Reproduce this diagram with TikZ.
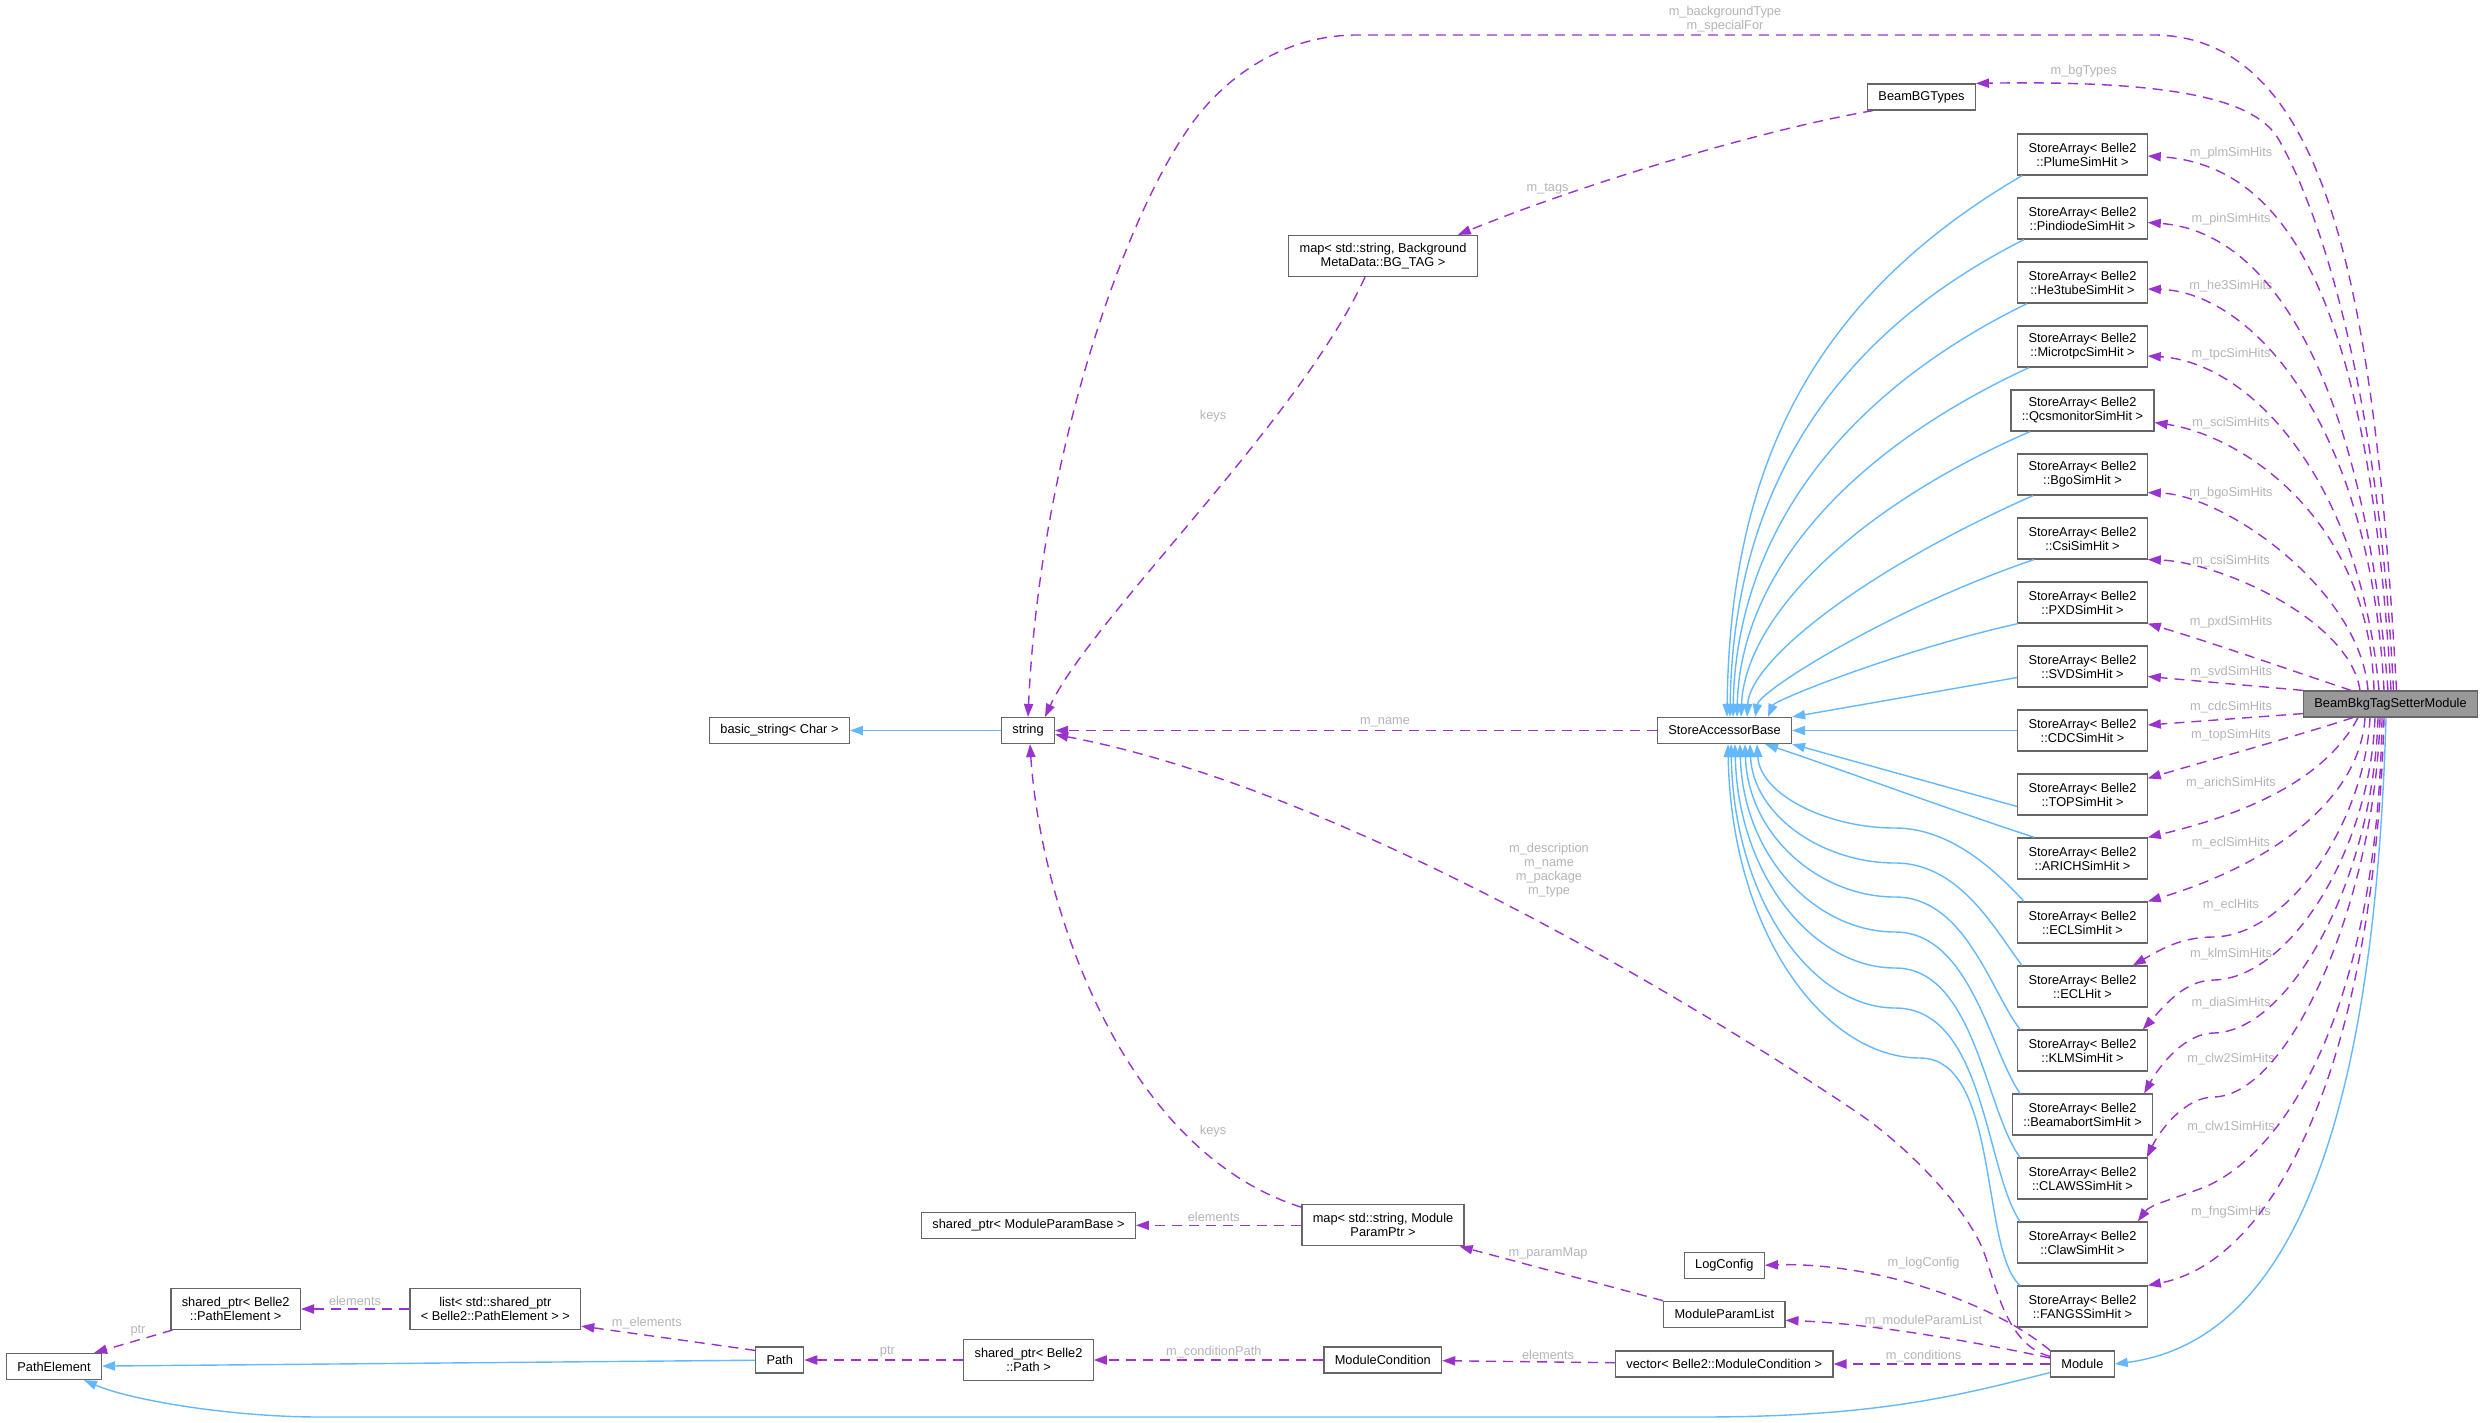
\documentclass[tikz,border=0pt]{standalone}
\usepackage{fontspec}
\setmainfont{Liberation Sans}
\usetikzlibrary{arrows.meta}
\definecolor{usecol}{HTML}{9A32CD}
\definecolor{inhcol}{HTML}{63B8FF}
\definecolor{boxcol}{HTML}{666666}
\definecolor{lblcol}{HTML}{B4B4B4}
\definecolor{selcol}{HTML}{999999}
\tikzset{
  box/.style={draw=boxcol, line width=0.6pt, fill=white, inner xsep=5.4pt, inner ysep=1pt,
    minimum height=13pt, align=center, font=\fontsize{6.4}{7}\selectfont},
  box2/.style={box, minimum height=20.5pt},
  lbl/.style={text=lblcol, inner sep=0pt, align=center, font=\fontsize{6.4}{7}\selectfont},
  uses/.style={draw=usecol, line width=0.7pt, dash pattern=on 5pt off 3.5pt,
    -{Triangle[length=6.5pt,width=4.6pt]}},
  inh/.style={draw=inhcol, line width=0.7pt, -{Triangle[length=6.5pt,width=4.6pt]}},
}
\begin{document}
\begin{tikzpicture}[x=0.5pt,y=-0.5pt]
\useasboundingbox (0,0) rectangle (2484,1423);

% classes
\node[box, fill=selcol] (bb) at (2390.5,704) {BeamBkgTagSetterModule};
\node[box] (bgt) at (1921.5,97) {BeamBGTypes};
\node[box2] (mapbg) at (1383,256) {map< std::string, Background\\MetaData::BG\_TAG >};
\node[box] (str) at (1028,730.5) {string};
\node[box] (bstr) at (779.5,730.5) {basic\_string< Char >};
\node[box] (sab) at (1724.5,730.5) {StoreAccessorBase};
\node[box] (mod) at (2082.4,1364) {Module};
\node[box] (lcfg) at (1724.3,1265.2) {LogConfig};
\node[box] (mpl) at (1724.3,1314.3) {ModuleParamList};
\node[box] (vmc) at (1724.3,1364) {vector< Belle2::ModuleCondition >};
\node[box] (mc) at (1382.8,1360) {ModuleCondition};
\node[box2] (mapmp) at (1383,1225.3) {map< std::string, Module\\ParamPtr >};
\node[box] (spmpb) at (1028.5,1225.3) {shared\_ptr< ModuleParamBase >};
\node[box2] (sppath) at (1028.5,1360) {shared\_ptr< Belle2\\::Path >};
\node[box] (path) at (779.7,1360) {Path};
\node[box2] (lst) at (495.3,1309) {list< std::shared\_ptr\\< Belle2::PathElement > >};
\node[box2] (sppe) at (235.7,1309) {shared\_ptr< Belle2\\::PathElement >};
\node[box] (pe) at (54,1366.5) {PathElement};

% store arrays
\foreach \i/\cname in {0/PlumeSimHit,1/PindiodeSimHit,2/He3tubeSimHit,3/MicrotpcSimHit,
  4/QcsmonitorSimHit,5/BgoSimHit,6/CsiSimHit,7/PXDSimHit,8/SVDSimHit,9/CDCSimHit,
  10/TOPSimHit,11/ARICHSimHit,12/ECLSimHit,13/ECLHit,14/KLMSimHit,15/BeamabortSimHit,
  16/CLAWSSimHit,17/ClawSimHit,18/FANGSSimHit}
  \node[box2] (sa\i) at (2082.5,{154.5+64*\i}) {StoreArray< Belle2\\::\cname{} >};

% member labels
\foreach \y/\m in {152.7/plmSimHits,219.3/pinSimHits,286/he3SimHits,354/tpcSimHits,
  423.3/sciSimHits,492.7/bgoSimHits,560.7/csiSimHits,622.3/pxdSimHits,671.7/svdSimHits,
  707.3/cdcSimHits,735.3/topSimHits,783.3/arichSimHits,843.3/eclSimHits,905/eclHits,
  954.3/klmSimHits,1003.3/diaSimHits,1059.3/clw2SimHits,1127.3/clw1SimHits,1212/fngSimHits}
  \node[lbl] (l\m) at (2231,\y) {m\_\m};
\node[lbl] (lbgtype) at (1725,19.5) {m\_backgroundType\\m\_specialFor};
\node[lbl] (lbgtypes) at (2083.7,70.7) {m\_bgTypes};
\node[lbl] (ltags) at (1547.6,189) {m\_tags};
\node[lbl] (lkeysbg) at (1213,415.7) {keys};
\node[lbl] (lname) at (1385,722.7) {m\_name};
\node[lbl] (ldesc) at (1549,870) {m\_description\\m\_name\\m\_package\\m\_type};
\node[lbl] (lkeysmp) at (1213,1130.7) {keys};
\node[lbl] (lelemmp) at (1213.8,1217) {elements};
\node[lbl] (lparam) at (1548,1253) {m\_paramMap};
\node[lbl] (llog) at (1923.6,1262.7) {m\_logConfig};
\node[lbl] (lmpl) at (1923.6,1320.7) {m\_moduleParamList};
\node[lbl] (lcond) at (1923.6,1355.7) {m\_conditions};
\node[lbl] (lelemmc) at (1548,1355) {elements};
\node[lbl] (lcpath) at (1213.8,1351.7) {m\_conditionPath};
\node[lbl] (lptrpath) at (887.4,1351.7) {ptr};
\node[lbl] (lmelem) at (646.8,1322.7) {m\_elements};
\node[lbl] (lelempe) at (355,1300.7) {elements};
\node[lbl] (lptrpe) at (138,1331) {ptr};

% inheritance
\draw[inh] (str) -- (bstr);
\draw[inh] (path) -- (pe);
\draw[inh] ([yshift=-5.5pt]sa8.west) -- (sab.north east);
\draw[inh] (sa9) -- (sab);
\draw[inh] ([yshift=-6pt]sa10.west) -- (sab.south east);
\foreach \i/\s/\ax/\ay/\bx/\by/\h in {
  0/-30.25/1820/294/1730/457/1.25, 1/-29.25/1825/340/1733/500/2.75,
  2/-27.75/1830/400/1736/545/4.25, 3/-26.75/1840/455/1740/580/6.25,
  4/-26.25/1850/510/1745/620/8.25, 5/-24.75/1865/570/1750/660/11.25,
  6/-24.25/1894/607/1760/690/15.25, 7/-32.25/1900/650/1775/700/21.75}
  \draw[inh] ([xshift=\s pt]sa\i.south) .. controls (\ax,\ay) and (\bx,\by) .. ([xshift=\h pt]sab.north);
\draw[inh] ([xshift=-24pt]sa11.north) .. controls (1950,810) and (1820,762) .. ([xshift=20.25pt]sab.south);
\foreach \i/\s/\ax/\ay/\bx/\by/\mx/\my/\cx/\cy/\dx/\dy/\h in {
  12/-29.25/1995/870/1950/828/1895/828/1826/828/1760/794/16.25,
  13/-30.25/1995/930/1960/863/1895/863/1822/863/1753/815/12.75,
  14/-31.25/1990/990/1965/897/1895/897/1820/897/1748/836/10.25,
  15/-31.25/1990/1050/1970/932/1895/932/1817/932/1743/858/7.75,
  16/-31.25/1985/1110/1975/968/1895/968/1815/968/1738/878/5.25,
  17/-31.25/1985/1170/1985/1008/1895/1008/1813/1008/1734/902/3.25,
  18/-31.25/1980/1250/2000/1058/1920/1058/1824/1058/1731/932/1.75}
  \draw[inh] ([xshift=\s pt]sa\i.north) .. controls (\ax,\ay) and (\bx,\by) .. (\mx,\my)
    .. controls (\cx,\cy) and (\dx,\dy) .. ([xshift=\h pt]sab.south);
\draw[inh] ([xshift=-2.25pt]bb.south) .. controls (2375,1100) and (2300,1340) .. (mod.east);
\draw[inh] ([yshift=2.5pt]mod.south west) .. controls (1960,1395) and (1880,1417) .. (1700,1417)
  -- (320,1417) .. controls (230,1417) and (130,1400) .. ([xshift=15pt]pe.south);

% usage
\draw[uses] ([xshift=3pt]bb.north) .. controls (2375,300) and (2330,40) .. (2157,35) -- (1357,35)
  .. controls (1290,35) and (1235,70) .. (1200,113) .. controls (1130,199) and (1040,450) .. (str.north);
\draw[uses] ([xshift=1.5pt]bb.north) .. controls (2380,420) and (2330,230) .. (2279,140)
  .. controls (2257,101) and (2180,80) .. (bgt.north east);
\draw[uses] ([xshift=3pt]bgt.south west) .. controls (1760,130) and (1580,185) .. ([xshift=-10pt]mapbg.north east);
\draw[uses] ([xshift=-9pt]mapbg.south) .. controls (1300,420) and (1090,620) .. ([xshift=8.5pt]str.north);
\foreach \i/\s/\ax/\ay/\bx/\by/\ys/\anc in {
  0/0.25/2370/330/2300/165/-0.75/east, 1/-1.25/2365/400/2280/232/-2/east,
  2/-3.25/2370/420/2250/292/-3.25/east, 3/-5.75/2360/480/2250/362/-4.75/east,
  4/-8.25/2369/517/2240/435/-6/east, 5/-11.25/2360/590/2225/495/1.5/south east,
  6/-15.25/2350/620/2220/562/0/south east, 7/-19.75/2290/670/2210/642/0/south east}
  \draw[uses] ([xshift=\s pt]bb.north) .. controls (\ax,\ay) and (\bx,\by) .. ([yshift=\ys pt]sa\i.\anc);
\draw[uses] (bb.north west) -- ([yshift=-5pt]sa8.east);
\draw[uses] ([yshift=2pt]bb.south west) -- ([yshift=2.75pt]sa9.east);
\draw[uses] ([xshift=-18.75pt]bb.south) .. controls (2300,735) and (2210,760) .. ([yshift=-2.5pt]sa10.north east);
\draw[uses] ([xshift=-16.25pt]bb.south) .. controls (2320,790) and (2220,820) .. (sa11.north east);
\draw[uses] ([xshift=-12.75pt]bb.south) .. controls (2360,800) and (2270,865) .. (sa12.north east);
\foreach \i/\s/\ax/\ay/\bx/\by/\mx/\my/\cx/\cy/\dx/\dy/\h in {
  13/-10.25/2365/820/2290/935/2214/937/2180/937/2160/950/-7.5,
  14/-7.75/2370/850/2290/978/2214/980/2185/980/2165/1005/-2.5,
  15/-6.25/2373/880/2290/1031/2214/1033/2185/1033/2160/1065/-4.5,
  16/-5.25/2375/900/2290/1095/2214/1097/2185/1097/2160/1130/-0.5,
  17/-4.25/2378/1000/2290/1150/2205/1187/2170/1200/2150/1205/-5}
  \draw[uses] ([xshift=\s pt]bb.south) .. controls (\ax,\ay) and (\bx,\by) .. (\mx,\my)
    .. controls (\cx,\cy) and (\dx,\dy) .. ([xshift=\h pt]sa\i.north east);
\draw[uses] ([xshift=-3.25pt]bb.south) .. controls (2375,1050) and (2280,1260) .. (sa18.north east);
\draw[uses] (sab) -- (str);
\draw[uses] ([yshift=-3pt]mod.north west) .. controls (2005,1345) and (1995,1280) .. (1983,1250)
  .. controls (1965,1205) and (1904,1144) .. (1858,1113) .. controls (1720,1020) and (1350,790) .. ([yshift=-2pt]str.east);
\draw[uses] ([yshift=-1.5pt]mapmp.north west) .. controls (1120,1150) and (1040,900) .. ([xshift=1pt]str.south);
\draw[uses] (mapmp) -- (spmpb);
\draw[uses] (mpl.north west) -- ([xshift=-2.5pt]mapmp.south east);
\draw[uses] (mod.north west) .. controls (1990,1300) and (1870,1262) .. (lcfg.east);
\draw[uses] ([yshift=3pt]mod.west) .. controls (1990,1345) and (1880,1324) .. ([yshift=-3pt]mpl.east);
\draw[uses] (mod) -- (vmc);
\draw[uses] (vmc) -- (mc);
\draw[uses] (mc) -- (sppath);
\draw[uses] (sppath) -- (path);
\draw[uses] ([yshift=-2pt]path.north west) -- ([yshift=2pt]lst.south east);
\draw[uses] (lst) -- (sppe);
\draw[uses] ([xshift=1pt]sppe.south west) -- ([xshift=-4pt]pe.north east);
\end{tikzpicture}
\end{document}
